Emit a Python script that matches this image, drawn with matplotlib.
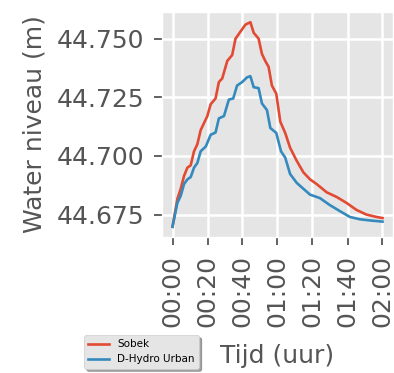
import datetime as dt
import matplotlib
matplotlib.use("Agg")
import matplotlib.pyplot as plt
import matplotlib.dates as mdates

plt.style.use("ggplot")

sobek_minutes = [0, 2.8, 4.7, 6.6, 8.5, 10.4, 12.3, 14.2, 16.1, 18, 19.9, 21.8, 24.6, 26.5, 28.4,
                 31.3, 34.1, 36, 37.9, 39.8, 41.7, 44.5, 46.4, 49.2, 51.1, 53, 54.9, 56.8, 59.3,
                 61.6, 64.4, 67.2, 71, 74.8, 78.6, 82.4, 88.1, 93.8, 99.4, 105.1, 110.8, 116.5, 120]
sobek_level = [44.6698, 44.6817, 44.686, 44.6915, 44.695, 44.696, 44.702, 44.705, 44.711, 44.714,
               44.717, 44.722, 44.7245, 44.7315, 44.733, 44.7405, 44.743, 44.750, 44.752, 44.754,
               44.756, 44.757, 44.7525, 44.750, 44.7435, 44.7405, 44.738, 44.730, 44.7265, 44.7146,
               44.7098, 44.7035, 44.6979, 44.693, 44.690, 44.688, 44.6845, 44.6825, 44.680, 44.677,
               44.675, 44.674, 44.6735]

dhydro_minutes = [0, 2.8, 4.7, 6.6, 8.5, 10.4, 12.3, 14.2, 16.1, 19, 21.8, 24.6, 26.5, 29.4, 32.2,
                  34.7, 36.9, 39.8, 42.6, 44.5, 46.4, 49.2, 51.1, 54, 55.9, 59.3, 62, 64.4, 67.2,
                  71, 74.8, 78.6, 84.3, 90, 95.6, 101.3, 107, 112.8, 120]
dhydro_level = [44.6698, 44.680, 44.683, 44.688, 44.690, 44.691, 44.695, 44.697, 44.702, 44.704,
                44.709, 44.710, 44.716, 44.717, 44.724, 44.7245, 44.730, 44.7315, 44.7335, 44.734,
                44.7293, 44.7289, 44.7224, 44.7195, 44.7119, 44.7098, 44.702, 44.6993, 44.6923, 44.6885,
                44.686, 44.6835, 44.682, 44.679, 44.6765, 44.674, 44.673, 44.6725, 44.672]

series_names = ["Sobek", "D-Hydro Urban"]
x_label = "Tijd (uur)"
y_label = "Water niveau (m)"

base = dt.datetime(2000, 1, 1, 0, 0)
sobek_t = [base + dt.timedelta(minutes=m) for m in sobek_minutes]
dhydro_t = [base + dt.timedelta(minutes=m) for m in dhydro_minutes]

fig = plt.figure(figsize=(3.94, 3.73), dpi=100)
ax = fig.add_axes([162 / 394, 1 - 237 / 373, (393 - 162) / 394, (237 - 12) / 373])
ax.grid(True, color="white", linewidth=1.8)

ax.plot(sobek_t, sobek_level, color="#E24A33", lw=1.9, label=series_names[0])
ax.plot(dhydro_t, dhydro_level, color="#348ABD", lw=1.9, label=series_names[1])

ax.xaxis.set_major_locator(mdates.MinuteLocator(byminute=[0, 20, 40]))
ax.xaxis.set_major_formatter(mdates.DateFormatter("%H:%M"))
ax.set_yticks([44.675, 44.700, 44.725, 44.750])
ax.yaxis.set_major_formatter(matplotlib.ticker.FormatStrFormatter("%.3f"))

fs = 18
ax.tick_params(axis="both", labelsize=fs, length=6, width=1.3, pad=7)
for lab in ax.get_xticklabels():
    lab.set_rotation(90)
ax.set_xlabel(x_label, fontsize=fs, labelpad=12)
ax.set_ylabel(y_label, fontsize=fs, labelpad=7)

fig.legend(loc="upper left", bbox_to_anchor=(84 / 394, 1 - 335 / 373),
           bbox_transform=fig.transFigure, fontsize=7.5, shadow=True, borderaxespad=0)

fig.savefig("out.png", dpi=100)
